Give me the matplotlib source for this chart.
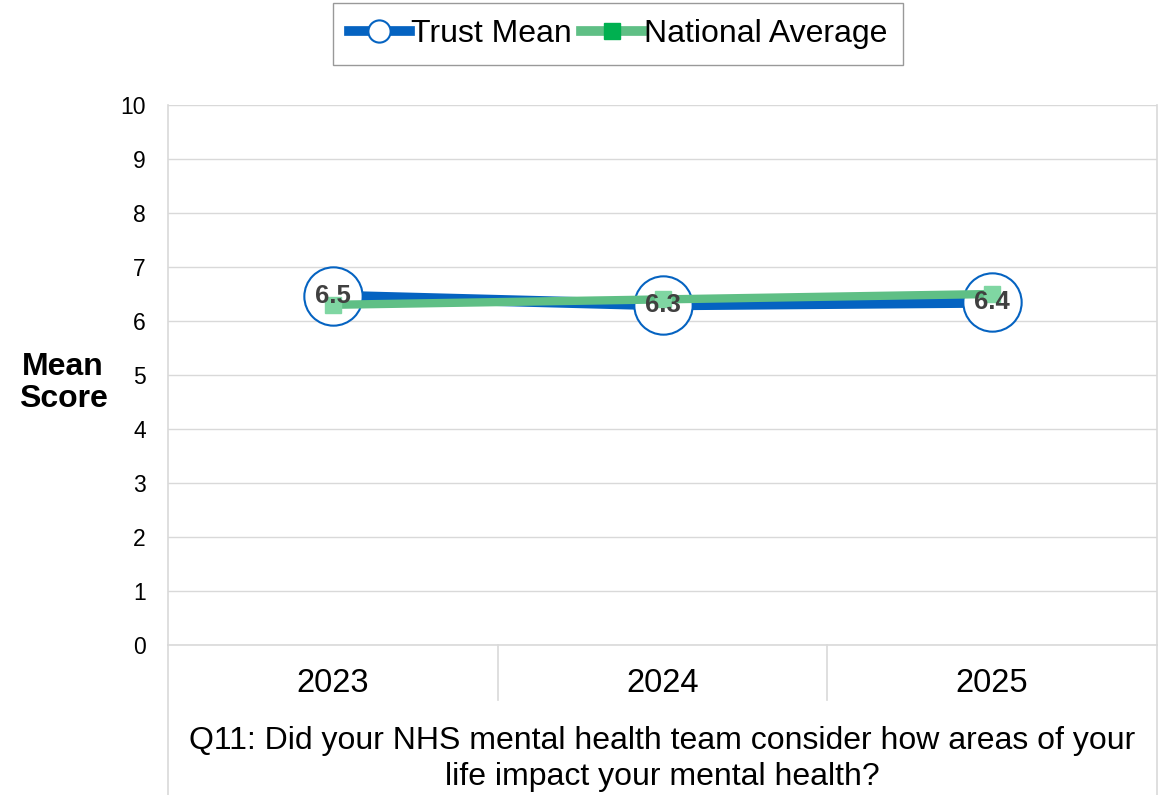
import matplotlib.pyplot as plt
from matplotlib.lines import Line2D

plt.rcParams['font.family'] = ['Liberation Sans', 'DejaVu Sans']

years = ['2023', '2024', '2025']
trust_mean = [6.46, 6.30, 6.35]
trust_labels = ['6.5', '6.3', '6.4']
national_avg = [6.30, 6.40, 6.50]
question = 'Q11: Did your NHS mental health team consider how areas of your\nlife impact your mental health?'

blue = '#0563C1'
green_line = '#5FBF85'
green_mark = '#7FD6A2'
grid_col = '#D9D9D9'

fig = plt.figure(figsize=(11.66, 7.95), dpi=100)
ax = fig.add_axes([168/1166, 1-645/795, 989/1166, 540/795])

x = list(range(len(years)))
ax.plot(x, trust_mean, color=blue, lw=8, solid_capstyle='butt', zorder=3)
ax.plot(x, trust_mean, ls='none', marker='o', ms=42, mfc='white', mec=blue, mew=1.5, zorder=4)
ax.plot(x, national_avg, color=green_line, lw=6, zorder=5)
ax.plot(x, national_avg, ls='none', marker='s', ms=11, color=green_mark, zorder=6)
for xi, v, lab in zip(x, trust_mean, trust_labels):
    ax.text(xi, v, lab, ha='center', va='center', fontsize=18.5, fontweight='bold',
            color='#404040', zorder=7)

ax.set_xlim(-0.5, 2.5)
ax.set_ylim(0, 10)
ax.set_yticks(range(0, 11))
ax.tick_params(axis='y', labelsize=16.5, length=0, pad=16)
ax.set_xticks([])
ax.grid(axis='y', color=grid_col, lw=1)
ax.set_axisbelow(True)
ax.spines['top'].set_visible(False)
for s in ['left', 'right', 'bottom']:
    ax.spines[s].set_color(grid_col)
    ax.spines[s].set_linewidth(1.2)

ax.set_ylabel('Mean\nScore', rotation=0, fontsize=23, fontweight='bold', va='center',
              ha='center', linespacing=1.1)
ax.yaxis.set_label_coords(-105/989, 0.485)

# category area below the axis
for i, yr in enumerate(years):
    ax.text(i, -0.72, yr, ha='center', va='center', fontsize=23.5, clip_on=False)
for b in [0.5, 1.5]:
    ax.plot([b, b], [0, -1.02], color=grid_col, lw=1.2, clip_on=False)
for b in [-0.5, 2.5]:
    ax.plot([b, b], [0, -2.8], color=grid_col, lw=1.2, clip_on=False)
ax.text(1, -2.11, question, ha='center', va='center', fontsize=23, linespacing=1.25,
        clip_on=False)

handles = [
    Line2D([], [], color=blue, lw=7, marker='o', ms=16, mfc='white', mec=blue, mew=1.5),
    Line2D([], [], color=green_line, lw=7, marker='s', ms=11, mfc='#00B050', mec='#00B050'),
]
fig.legend(handles, ['Trust Mean', 'National Average'], loc='upper center',
           bbox_to_anchor=(618/1166, 1-3/795), ncol=2, fontsize=23, frameon=True,
           fancybox=False, edgecolor='#808080', handlelength=1.9, handletextpad=0.05,
           columnspacing=0.3, borderpad=0.5, borderaxespad=0)

fig.savefig('out.png', dpi=100)
